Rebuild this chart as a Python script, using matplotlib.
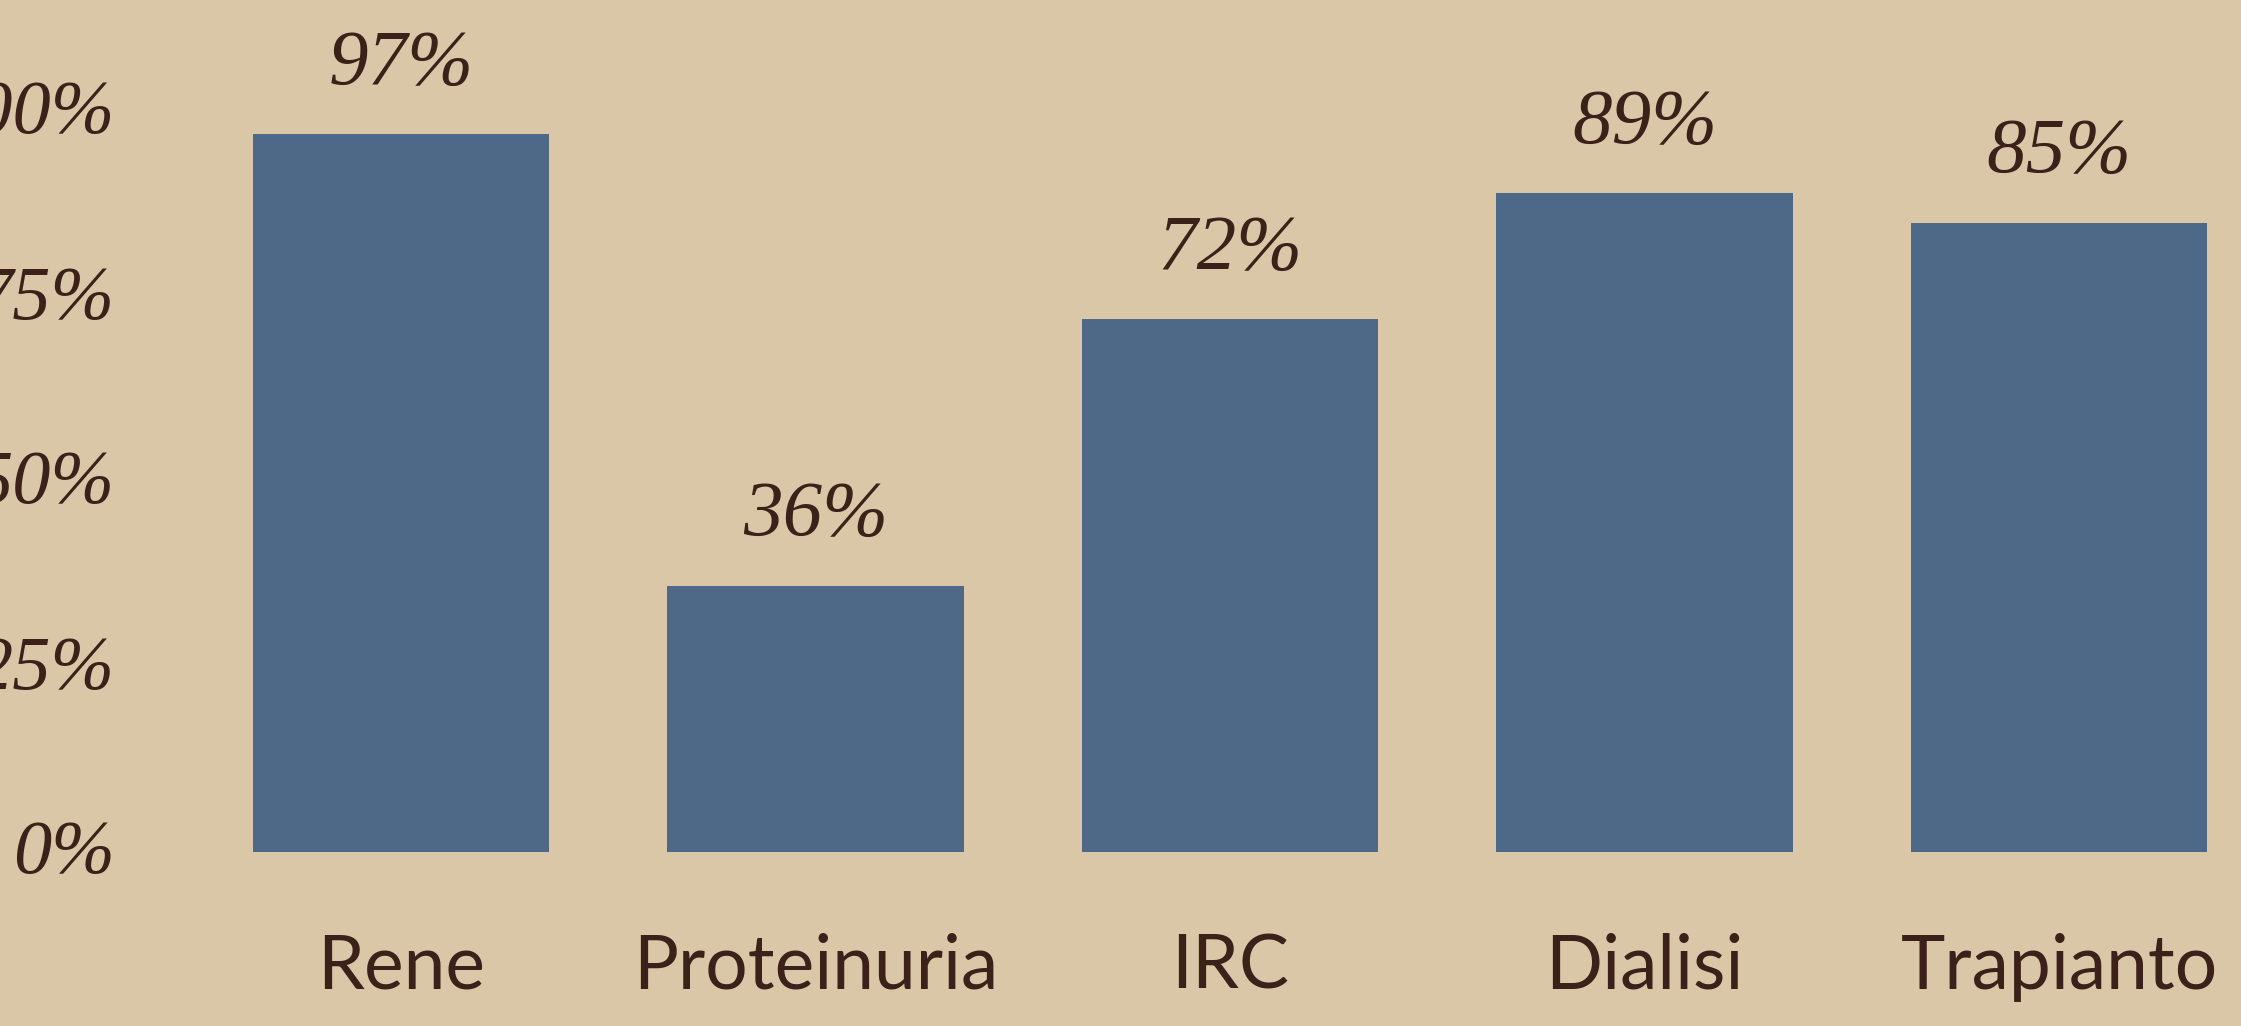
"""Bar chart of kidney-related percentages on a parchment background."""

import matplotlib.pyplot as plt
import matplotlib.patheffects as pe
import matplotlib.transforms as mtransforms
import numpy as np


categories = ['Rene', 'Proteinuria', 'IRC', 'Dialisi', 'Trapianto']
values = [97, 36, 72, 89, 85]
yticks = [0, 25, 50, 75, 100]

bg = '#dac7a7'
bar_color = '#4e6888'
ink = '#3a2119'

fig = plt.figure(figsize=(22.41, 10.26), dpi=100, facecolor=bg)
ax = fig.add_axes([130 / 2241, 174 / 1026, (2241 - 130) / 2241, 740 / 1026])
ax.set_facecolor(bg)

x = np.arange(len(categories))
bars = ax.bar(x, values, width=0.715, color=bar_color, linewidth=0)
for bar in bars:
    bar.set_path_effects([
        pe.SimplePatchShadow(offset=(0, -2.5), shadow_rgbFace='#8b8984', alpha=1.0),
        pe.Normal(),
    ])

for xi, v in zip(x, values):
    ax.annotate(
        f'{v}%', (xi, v), xytext=(0, 50), textcoords='offset points',
        ha='center', va='center', fontsize=57, color=ink,
        family='Liberation Serif', style='italic',
    )

ax.set_xlim(-0.654, 4.439)
ax.set_ylim(0, 100)
ax.set_yticks(yticks)
ax.set_yticklabels([f'{t}%' for t in yticks], fontsize=55, color=ink,
                   family='Liberation Serif', style='italic')
ax.set_xticks(x)
ax.set_xticklabels(categories, fontsize=54, color=ink, family='Lato')
ax.tick_params(axis='y', length=0, pad=11)
ax.tick_params(axis='x', length=0, pad=58)
shift = mtransforms.ScaledTranslation(0, 5 / 100, fig.dpi_scale_trans)
for label in ax.get_yticklabels():
    label.set_transform(label.get_transform() + shift)
for spine in ax.spines.values():
    spine.set_visible(False)

fig.savefig('out.png', dpi=100, facecolor=bg)
plt.close(fig)
